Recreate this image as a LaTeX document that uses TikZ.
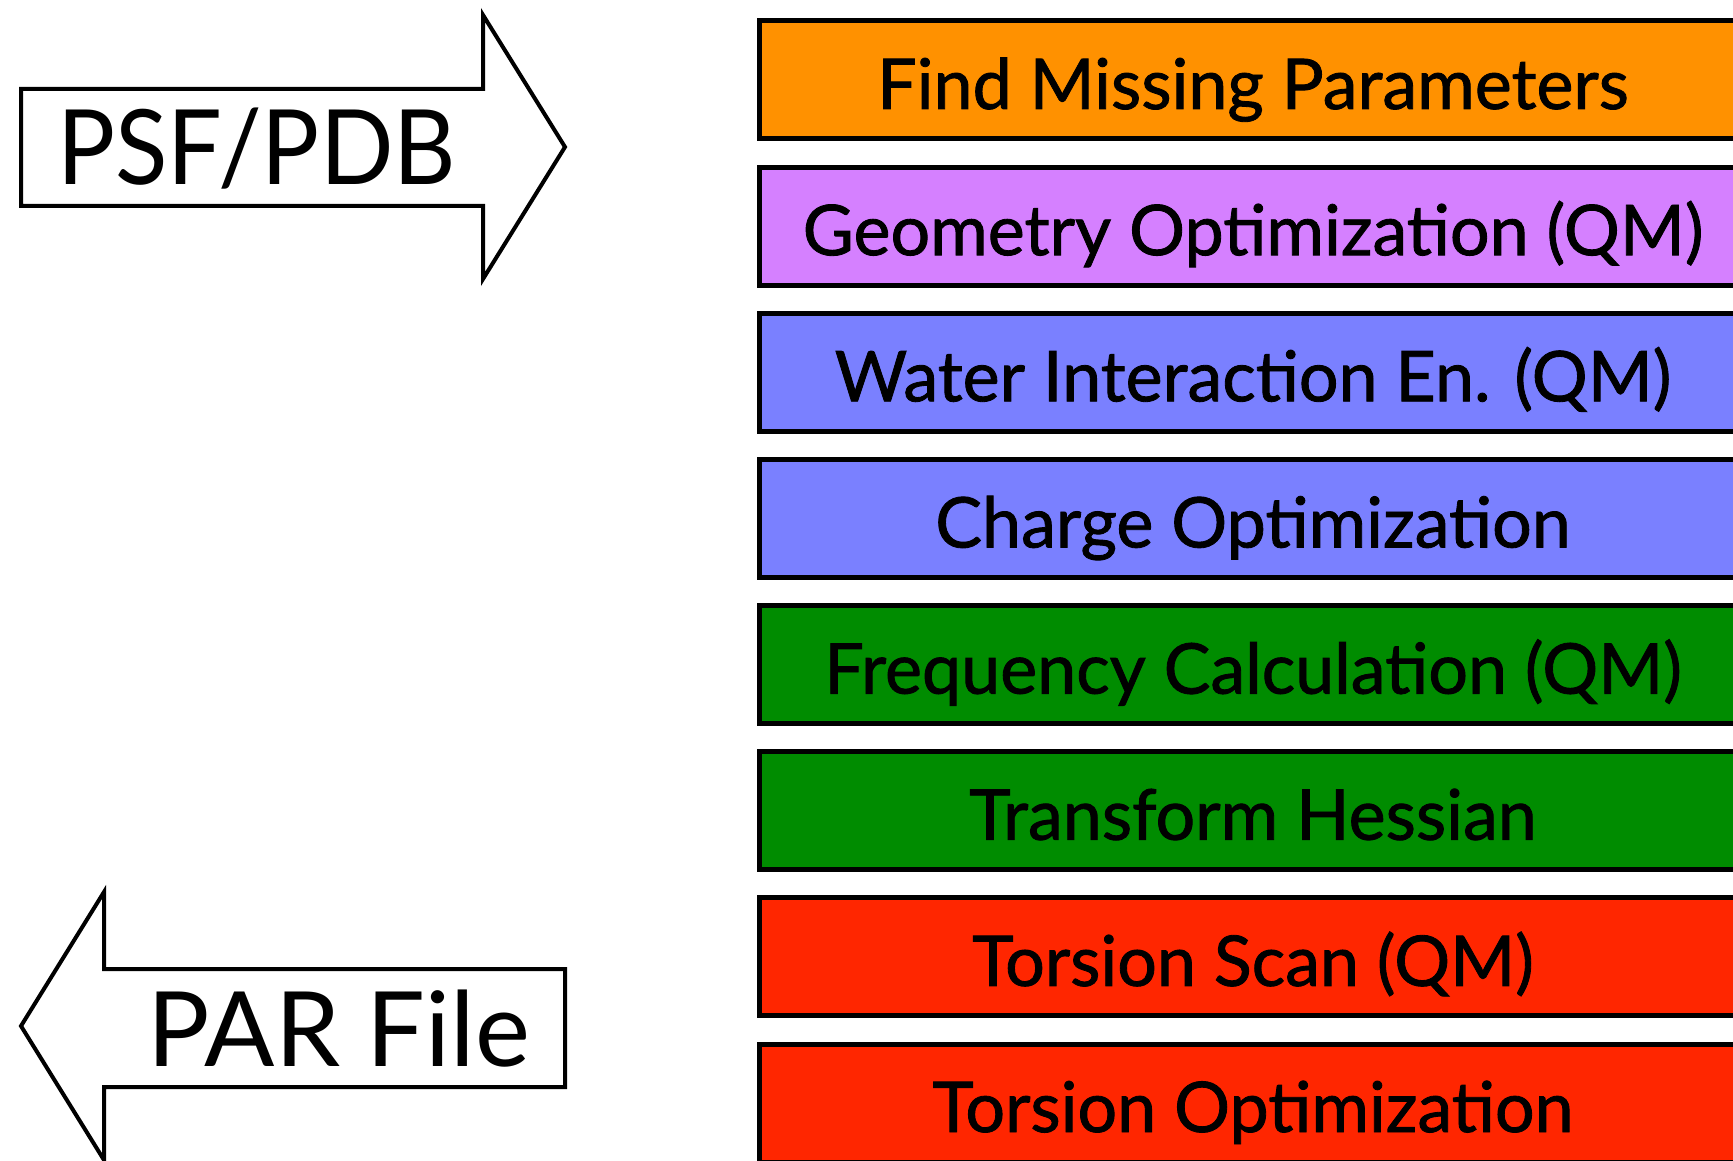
\documentclass[tikz,border=0pt]{standalone}
\usepackage{graphicx}
\usepackage{fontspec}
\setmainfont{Lato}
\newfontfamily\boxfont{Lato}[FakeBold=1.2]
\definecolor{cOrange}{RGB}{255,145,0}
\definecolor{cPurple}{RGB}{213,128,255}
\definecolor{cBlue}{RGB}{122,128,255}
\definecolor{cGreen}{RGB}{0,140,0}
\definecolor{cRed}{RGB}{255,38,0}
\begin{document}
\begin{tikzpicture}[x=1pt,y=-1pt,
  stepbox/.style={draw=black,line width=5pt,outer sep=0pt,inner sep=0pt,anchor=north west,minimum width=1001pt,minimum height=118pt},
  boxtxt/.style={anchor=base,inner sep=0pt,font=\boxfont\fontsize{70}{84}\selectfont},
  arrowshape/.style={draw=black,line width=4pt,fill=white,line join=miter},
  arrowtxt/.style={anchor=base west,inner sep=0pt,font=\fontsize{104}{120}\selectfont}
]
\useasboundingbox (0,0) rectangle (1733,1161);
\clip (0,0) rectangle (1733,1161);
\fill[white] (0,0) rectangle (1733,1161);
% input arrow
\draw[arrowshape] (21,89) -- (483,89) -- (483,15) -- (565,147) -- (483,279) -- (483,206) -- (21,206) -- cycle;
\node[arrowtxt] (psf) at (57,185) {\scalebox{0.93}[1]{PSF/PDB}};
% output arrow
\draw[arrowshape] (565,969) -- (104,969) -- (104,892) -- (21,1026) -- (104,1160) -- (104,1087) -- (565,1087) -- cycle;
\node[arrowtxt] (par) at (147,1066) {PAR File};
% step boxes
\foreach \i/\col/\txt in {1/cOrange/Find Missing Parameters,
  2/cPurple/Geometry Optimization (QM),
  3/cBlue/Water Interaction En. (QM),
  4/cBlue/Charge Optimization,
  5/cGreen/Frequency Calculation (QM),
  6/cGreen/Transform Hessian,
  7/cRed/Torsion Scan (QM),
  8/cRed/Torsion Optimization}{
  \pgfmathsetmacro\yt{21+146.15*(\i-1)}
  \node[stepbox,fill=\col] (b\i) at (759,\yt) {};
  \node[boxtxt] (t\i) at (1253,\yt+88) {\txt};
}
\end{tikzpicture}
\end{document}
